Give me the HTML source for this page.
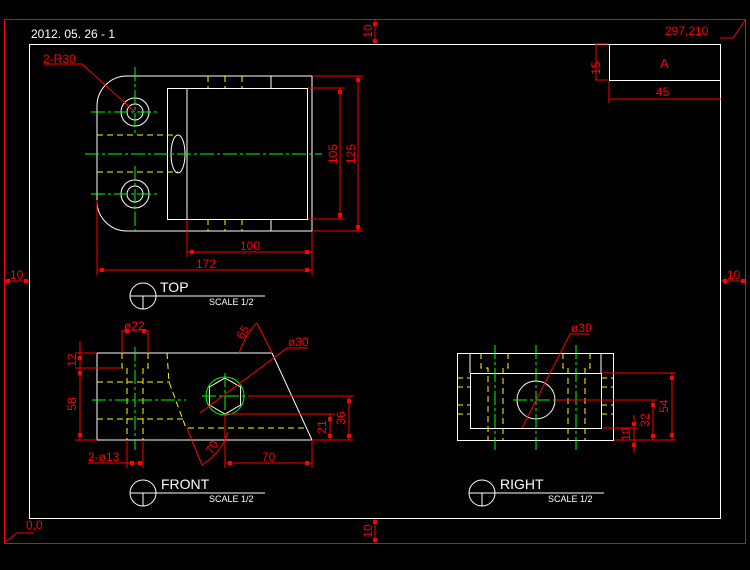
<!DOCTYPE html>
<html><head><meta charset="utf-8"><style>
html,body{margin:0;padding:0;background:#000;}
svg{display:block;}
text{font-family:"Liberation Sans",sans-serif;}
</style></head><body>
<svg width="750" height="570" viewBox="0 0 750 570" xmlns="http://www.w3.org/2000/svg">
<rect width="750" height="570" fill="#000"/>
<g fill="none" stroke-width="1">
<!-- borders -->
<rect x="4.5" y="19.5" width="741" height="524" stroke="#f00"/>
<rect x="29.5" y="44.5" width="691" height="474" stroke="#fff"/>
<!-- border dims -->
<g stroke="#f00">
<line x1="375" y1="19" x2="375" y2="44"/><line x1="375" y1="519" x2="375" y2="543"/>
<line x1="4" y1="281" x2="29" y2="281"/><line x1="721" y1="281" x2="746" y2="281"/>
<polyline points="4,543 17,533 34,533"/>
<polyline points="746,19 733,38 720,38"/>
</g>
<g fill="#f00">
<rect x="373" y="22" width="4" height="4"/><rect x="373" y="39" width="4" height="4"/>
<rect x="373" y="520" width="4" height="4"/><rect x="373" y="538" width="4" height="4"/>
<rect x="6" y="279" width="4" height="4"/><rect x="24" y="279" width="4" height="4"/>
<rect x="723" y="279" width="4" height="4"/><rect x="741" y="279" width="4" height="4"/>
</g>
<!-- title block -->
<rect x="609.5" y="44.5" width="111" height="36" stroke="#fff"/>
<g stroke="#f00">
<line x1="595" y1="44" x2="608" y2="44"/><line x1="595" y1="80" x2="608" y2="80"/>
<line x1="596" y1="44" x2="596" y2="80"/>
<line x1="609" y1="81" x2="609" y2="103"/><line x1="609" y1="99" x2="721" y2="99"/>
</g>

<!-- TOP VIEW -->
<g stroke="#fff">
<path d="M312,76 H127 A30,30 0 0 0 97,106 V201 A30,30 0 0 0 127,231 H312 Z"/>
<rect x="167.5" y="88.5" width="140" height="131"/>
<line x1="187" y1="88" x2="187" y2="219"/>
<line x1="271" y1="76" x2="271" y2="88"/><line x1="271" y1="219" x2="271" y2="231"/>
<circle cx="135" cy="112" r="14"/><circle cx="135" cy="112" r="8"/>
<circle cx="135" cy="194" r="14"/><circle cx="135" cy="194" r="8"/>
<ellipse cx="178" cy="154" rx="7" ry="19"/>
</g>
<g stroke="#ff0" stroke-dasharray="6,4">
<line x1="97" y1="135" x2="178" y2="135"/><line x1="97" y1="172" x2="178" y2="172"/>
<line x1="208" y1="76" x2="208" y2="88"/><line x1="225" y1="76" x2="225" y2="88"/><line x1="242" y1="76" x2="242" y2="88"/>
<line x1="208" y1="219" x2="208" y2="231"/><line x1="225" y1="219" x2="225" y2="231"/><line x1="242" y1="219" x2="242" y2="231"/>
</g>
<g stroke="#0f0" stroke-dasharray="14,3,3,3">
<line x1="85" y1="154" x2="322" y2="154"/>
<line x1="91" y1="112" x2="157" y2="112"/><line x1="91" y1="194" x2="157" y2="194"/>
<line x1="135" y1="67" x2="135" y2="134"/><line x1="135" y1="166" x2="135" y2="232"/>
</g>
<g stroke="#f00">
<polyline points="44,64 82,64 135,112"/>
<line x1="308" y1="88" x2="345" y2="88"/><line x1="308" y1="219" x2="345" y2="219"/><line x1="340" y1="88" x2="340" y2="219"/>
<line x1="313" y1="76" x2="363" y2="76"/><line x1="313" y1="231" x2="363" y2="231"/><line x1="358" y1="76" x2="358" y2="231"/>
<line x1="187" y1="220" x2="187" y2="257"/><line x1="312" y1="232" x2="312" y2="275"/><line x1="187" y1="252" x2="312" y2="252"/>
<line x1="97" y1="200" x2="97" y2="275"/><line x1="97" y1="270" x2="312" y2="270"/>
</g>
<g fill="#f00">
<rect x="338" y="90" width="4" height="4"/><rect x="338" y="213" width="4" height="4"/>
<rect x="356" y="78" width="4" height="4"/><rect x="356" y="225" width="4" height="4"/>
<rect x="190" y="250" width="4" height="4"/><rect x="305" y="250" width="4" height="4"/>
<rect x="100" y="268" width="4" height="4"/><rect x="305" y="268" width="4" height="4"/>
</g>
<!-- view labels -->
<g stroke="#fff">
<circle cx="143" cy="296" r="13"/><line x1="130" y1="296" x2="265" y2="296"/><line x1="143" y1="296" x2="143" y2="309"/>
<circle cx="143" cy="493" r="13"/><line x1="130" y1="493" x2="265" y2="493"/><line x1="143" y1="493" x2="143" y2="506"/>
<circle cx="482" cy="493" r="13"/><line x1="469" y1="493" x2="604" y2="493"/><line x1="482" y1="493" x2="482" y2="506"/>
</g>

<!-- FRONT VIEW -->
<g stroke="#fff">
<polyline points="97,353 272,353 312,440 97,440 97,353"/>
<polygon points="225,378 240.6,387 240.6,405 225,414 209.4,405 209.4,387"/>
</g>
<circle cx="225" cy="396" r="19" stroke="#0f0"/>
<g stroke="#ff0" stroke-dasharray="6,4">
<polyline points="122,353 122,368 127,368 127,440"/>
<polyline points="148,353 148,368 143,368 143,440"/>
<line x1="97" y1="382" x2="170" y2="382"/><line x1="97" y1="419" x2="185" y2="419"/>
<polyline points="167,353 169,382 186,428"/>
<line x1="188" y1="428" x2="307" y2="428"/>
</g>
<g stroke="#0f0" stroke-dasharray="14,3,3,3">
<line x1="92" y1="400" x2="186" y2="400"/><line x1="135" y1="347" x2="135" y2="450"/>
<line x1="202" y1="396" x2="248" y2="396"/><line x1="225" y1="373" x2="225" y2="419"/>
</g>
<g stroke="#f00">
<line x1="75" y1="353" x2="97" y2="353"/><line x1="75" y1="368" x2="122" y2="368"/><line x1="75" y1="440" x2="97" y2="440"/>
<line x1="80" y1="341" x2="80" y2="440"/>
<line x1="122" y1="330" x2="122" y2="353"/><line x1="148" y1="330" x2="148" y2="353"/><line x1="122" y1="331" x2="148" y2="331"/>
<polyline points="88,463 143,463"/><line x1="127" y1="440" x2="127" y2="468"/><line x1="143" y1="440" x2="143" y2="468"/>
<polyline points="200,413 287,348 308,348"/>
<line x1="272" y1="353" x2="257" y2="323"/><path d="M239,353 Q247,332 257,323"/>
<line x1="248" y1="396" x2="354" y2="396"/><line x1="225" y1="414" x2="335" y2="414"/>
<line x1="312" y1="440" x2="354" y2="440"/>
<line x1="349" y1="396" x2="349" y2="440"/><line x1="330" y1="414" x2="330" y2="440"/>
<line x1="225" y1="414" x2="225" y2="468"/><line x1="312" y1="440" x2="312" y2="468"/><line x1="225" y1="463" x2="312" y2="463"/>
<line x1="187" y1="428" x2="202" y2="465"/><path d="M202,465 Q222,452 228,432"/>
</g>
<g fill="#f00">
<rect x="78" y="356" width="4" height="4"/><rect x="78" y="371" width="4" height="4"/><rect x="78" y="433" width="4" height="4"/>
<rect x="125" y="329" width="4" height="4"/><rect x="142" y="329" width="4" height="4"/>
<rect x="347" y="399" width="4" height="4"/><rect x="347" y="434" width="4" height="4"/>
<rect x="328" y="417" width="4" height="4"/><rect x="328" y="434" width="4" height="4"/>
<rect x="228" y="461" width="4" height="4"/><rect x="305" y="461" width="4" height="4"/>
<rect x="130" y="461" width="4" height="4"/><rect x="138" y="461" width="4" height="4"/>
</g>

<!-- RIGHT VIEW -->
<g stroke="#fff">
<rect x="457.5" y="353.5" width="156" height="87"/>
<rect x="470.5" y="373.5" width="131" height="55"/>
<line x1="470" y1="353" x2="470" y2="373"/><line x1="601" y1="353" x2="601" y2="373"/>
<circle cx="536" cy="400" r="19"/>
</g>
<g stroke="#ff0" stroke-dasharray="6,4">
<polyline points="481,353 481,368 488,368 488,440"/>
<polyline points="508,353 508,368 503,368 503,440"/>
<polyline points="563,353 563,368 568,368 568,440"/>
<polyline points="590,353 590,368 585,368 585,440"/>
<line x1="457" y1="378" x2="470" y2="378"/><line x1="457" y1="387" x2="470" y2="387"/>
<line x1="457" y1="405" x2="470" y2="405"/><line x1="457" y1="414" x2="470" y2="414"/>
<line x1="601" y1="378" x2="613" y2="378"/><line x1="601" y1="387" x2="613" y2="387"/>
<line x1="601" y1="405" x2="613" y2="405"/><line x1="601" y1="414" x2="613" y2="414"/>
</g>
<g stroke="#0f0" stroke-dasharray="14,3,3,3">
<line x1="495" y1="345" x2="495" y2="450"/><line x1="536" y1="345" x2="536" y2="450"/><line x1="576" y1="345" x2="576" y2="450"/>
<line x1="513" y1="400" x2="559" y2="400"/>
</g>
<g stroke="#f00">
<polyline points="522,428 570,334 590,334"/>
<line x1="602" y1="373" x2="676" y2="373"/><line x1="555" y1="400" x2="657" y2="400"/>
<line x1="603" y1="428" x2="638" y2="428"/><line x1="614" y1="440" x2="676" y2="440"/>
<line x1="672" y1="373" x2="672" y2="440"/><line x1="653" y1="400" x2="653" y2="440"/>
<line x1="634" y1="415" x2="634" y2="453"/>
</g>
<g fill="#f00">
<rect x="670" y="376" width="4" height="4"/><rect x="670" y="433" width="4" height="4"/>
<rect x="651" y="403" width="4" height="4"/><rect x="651" y="434" width="4" height="4"/>
<rect x="632" y="422" width="4" height="4"/><rect x="632" y="443" width="4" height="4"/>
</g>
</g>

<!-- TEXT -->
<g font-size="12" fill="#fff">
<text x="31" y="38">2012. 05. 26 - 1</text>
<text x="160" y="292" font-size="14">TOP</text>
<text x="209" y="305" font-size="9">SCALE 1/2</text>
<text x="161" y="489" font-size="14">FRONT</text>
<text x="209" y="502" font-size="9">SCALE 1/2</text>
<text x="500" y="489" font-size="14">RIGHT</text>
<text x="548" y="502" font-size="9">SCALE 1/2</text>
</g>
<g font-size="12" fill="#f00">
<text x="665" y="35">297,210</text>
<text x="660" y="68" font-size="13">A</text>
<text x="656" y="96">45</text>
<text x="600" y="68" transform="rotate(-90 600 68)" text-anchor="middle">15</text>
<text x="43" y="63">2-R30</text>
<text x="240" y="250">100</text>
<text x="196" y="268">172</text>
<text x="340" y="154" transform="rotate(-90 340 154)" text-anchor="middle" dy="-3">105</text>
<text x="358" y="154" transform="rotate(-90 358 154)" text-anchor="middle" dy="-3">125</text>
<text x="124" y="330">ø22</text>
<text x="79" y="360" transform="rotate(-90 79 360)" text-anchor="middle" dy="-3">12</text>
<text x="79" y="404" transform="rotate(-90 79 404)" text-anchor="middle" dy="-3">58</text>
<text x="88" y="461">2-ø13</text>
<text x="288" y="346">ø30</text>
<text x="243" y="340" transform="rotate(-60 243 340)">65</text>
<text x="212" y="455" transform="rotate(-60 212 455)">70</text>
<text x="262" y="461">70</text>
<text x="348" y="418" transform="rotate(-90 348 418)" text-anchor="middle" dy="-3">36</text>
<text x="329" y="427" transform="rotate(-90 329 427)" text-anchor="middle" dy="-3">21</text>
<text x="571" y="332">ø30</text>
<text x="671" y="406" transform="rotate(-90 671 406)" text-anchor="middle" dy="-3">54</text>
<text x="652" y="420" transform="rotate(-90 652 420)" text-anchor="middle" dy="-3">32</text>
<text x="633" y="434" transform="rotate(-90 633 434)" text-anchor="middle" dy="-3">10</text>
<text x="375" y="31" transform="rotate(-90 375 31)" text-anchor="middle" dy="-3">10</text>
<text x="375" y="531" transform="rotate(-90 375 531)" text-anchor="middle" dy="-3">10</text>
<text x="10" y="279">10</text>
<text x="727" y="279">10</text>
<text x="26" y="529">0,0</text>
</g>
</svg>
</body></html>
